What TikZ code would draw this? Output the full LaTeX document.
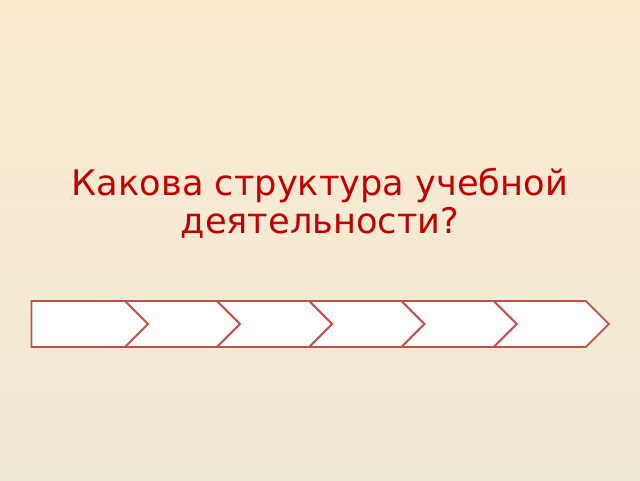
\documentclass[tikz,border=0pt]{standalone}
\usepackage{fontspec}
\setmainfont{DejaVu Sans}
\usepackage{tikz}
\usetikzlibrary{shapes,shapes.symbols}
\definecolor{bgtop}{HTML}{FDEBD0}
\definecolor{bgbottom}{HTML}{F0E9D6}
\definecolor{titlered}{HTML}{C00000}
\definecolor{stepline}{HTML}{C0504D}
\begin{document}
\begin{tikzpicture}[x=1pt, y=1pt,
	title/.style={font=\fontsize{35.2}{38}\selectfont, text=titlered, align=center, inner sep=0},
	stage/.style={signal, signal to=east, signal pointer angle=90, draw=stepline, line width=1.8, fill=white, minimum height=46, inner sep=0, outer sep=0},
	midstage/.style={stage, signal from=west, minimum width=115}
]
\shade[top color=bgtop, bottom color=bgbottom] (0,0) rectangle (640,480);
\useasboundingbox (0,0) rectangle (640,480);

\node[title, anchor=base] (q) at (320, 247) {Какова структура учебной\\деятельности?};

\node[stage, minimum width=128] (s1) at (84, 156) {};
\node[midstage] (s2) at (182.5, 156) {};
\node[midstage] (s3) at (274.7, 156) {};
\node[midstage] (s4) at (366.9, 156) {};
\node[midstage] (s5) at (459.1, 156) {};
\node[midstage] (s6) at (551.3, 156) {};
\end{tikzpicture}
\end{document}
